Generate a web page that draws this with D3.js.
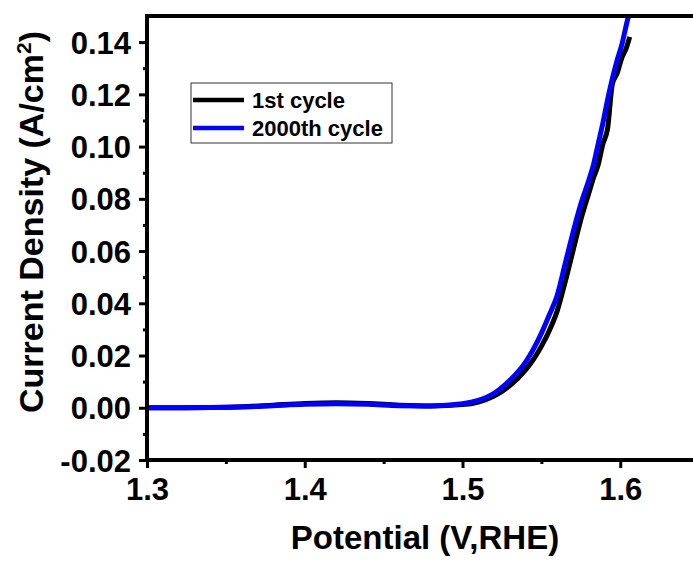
<!DOCTYPE html>
<html>
<head>
<meta charset="utf-8">
<script src="https://cdn.jsdelivr.net/npm/d3@7"></script>
<style>
  body { margin: 0; background: #fff; }
  svg text { font-family: Arial, "Liberation Sans", sans-serif; font-weight: bold; fill: #000; }
</style>
</head>
<body>
<div class="lsv-chart"></div>
<script>
// potential (V vs RHE)
var potential = [1.30, 1.32, 1.34, 1.36, 1.38, 1.40, 1.42, 1.44, 1.46, 1.48, 1.50, 1.51, 1.52, 1.53, 1.54,
                 1.545, 1.55, 1.555, 1.56, 1.565, 1.57, 1.575, 1.58, 1.583, 1.586, 1.589, 1.592, 1.595,
                 1.598, 1.601, 1.604, 1.606];

// current density (A/cm2)
var cycle1 = [0.0000, 0.0000, 0.0001, 0.0004, 0.0010, 0.0016, 0.0019, 0.0016, 0.0010, 0.0007, 0.0012, 0.0022,
              0.0045, 0.0085, 0.0145, 0.0185, 0.0235, 0.0295, 0.0370, 0.0480, 0.0600, 0.0720, 0.0820, 0.0880,
              0.0930, 0.1010, 0.1070, 0.1240, 0.1280, 0.1340, 0.1380, 0.1420];
var cycle2000 = [0.0000, 0.0000, 0.0001, 0.0003, 0.0008, 0.0013, 0.0015, 0.0013, 0.0008, 0.0007, 0.0015, 0.0028,
                 0.0055, 0.0105, 0.0175, 0.0225, 0.0285, 0.0355, 0.0430, 0.0550, 0.0670, 0.0780, 0.0870, 0.0930,
                 0.1010, 0.1090, 0.1180, 0.1260, 0.1330, 0.1390, 0.1470, 0.1520];

var seriesNames = ["1st cycle", "2000th cycle"];
var seriesColors = ["#000000", "#0000ff"];

var xTicks = [1.3, 1.4, 1.5, 1.6];
var xMinor = [1.35, 1.45, 1.55, 1.65];
var yTicks = [-0.02, 0.00, 0.02, 0.04, 0.06, 0.08, 0.10, 0.12, 0.14];
var yMinor = [-0.01, 0.01, 0.03, 0.05, 0.07, 0.09, 0.11, 0.13];

var width = 693, height = 563;

var x = d3.scaleLinear().domain([1.3, 1.7]).range([147, 778]);
var y = d3.scaleLinear().domain([-0.02, 0.15]).range([460, 16]);

var svg = d3.select(".lsv-chart").append("svg")
    .attr("width", width)
    .attr("height", height);

svg.append("defs").append("clipPath").attr("id", "plot-clip")
  .append("rect")
    .attr("x", x.range()[0]).attr("y", y.range()[1])
    .attr("width", x.range()[1] - x.range()[0])
    .attr("height", y.range()[0] - y.range()[1]);

// curves
var line = d3.line()
    .x(function(d) { return x(d[0]); })
    .y(function(d) { return y(d[1]); })
    .curve(d3.curveMonotoneX);

var allSeries = [cycle1, cycle2000];
svg.append("g").attr("clip-path", "url(#plot-clip)")
  .selectAll("path")
    .data(allSeries)
  .enter().append("path")
    .attr("d", function(s) { return line(potential.map(function(p, i) { return [p, s[i]]; })); })
    .style("fill", "none")
    .style("stroke", function(d, i) { return seriesColors[i]; })
    .style("stroke-width", 5)
    .style("stroke-linejoin", "round");

// frame (top line; right side falls outside the picture)
svg.append("line")
    .attr("x1", x.range()[0]).attr("x2", x.range()[1])
    .attr("y1", y.range()[1]).attr("y2", y.range()[1])
    .style("stroke", "#000").style("stroke-width", 4);

// x axis
var xAxis = svg.append("g").attr("transform", "translate(0," + y.range()[0] + ")");
xAxis.append("g").attr("class", "minor")
    .call(d3.axisBottom(x).tickValues(xMinor).tickSize(4).tickFormat(""));
xAxis.append("g").attr("class", "major")
    .call(d3.axisBottom(x).tickValues(xTicks).tickSize(8).tickFormat(d3.format(".1f")));
xAxis.selectAll(".domain").style("stroke", "#000").style("stroke-width", 4)
    .attr("d", "M" + (x.range()[0] - 2) + ",0H" + x.range()[1]);
xAxis.selectAll(".tick line").style("stroke", "#000").style("stroke-width", 3);
xAxis.selectAll(".major .tick text").style("font-size", "31px").attr("y", 40).attr("dy", 0);

// y axis
var yAxis = svg.append("g").attr("transform", "translate(" + x.range()[0] + ",0)");
yAxis.append("g").attr("class", "minor")
    .call(d3.axisLeft(y).tickValues(yMinor).tickSize(4).tickFormat(""));
yAxis.append("g").attr("class", "major")
    .call(d3.axisLeft(y).tickValues(yTicks).tickSize(8).tickFormat(function(d) {
      return d3.format(".2f")(d).replace("\u2212", "-");
    }));
yAxis.selectAll(".domain").style("stroke", "#000").style("stroke-width", 4)
    .attr("d", "M0," + (y.range()[0] + 2) + "V" + (y.range()[1] - 2));
yAxis.selectAll(".tick line").style("stroke", "#000").style("stroke-width", 3);
yAxis.selectAll(".major .tick text").style("font-size", "31px").attr("x", -16).attr("dy", "0.36em");

// axis titles
svg.append("text")
    .attr("x", 425).attr("y", 549)
    .attr("text-anchor", "middle")
    .style("font-size", "33px")
    .text("Potential (V,RHE)");

var yt = svg.append("text")
    .attr("transform", "translate(43,222) rotate(-90)")
    .attr("text-anchor", "middle")
    .style("font-size", "34px");
yt.append("tspan").text("Current Density (A/cm");
yt.append("tspan").attr("dy", -12).style("font-size", "21px").text("2");
yt.append("tspan").attr("dy", 12).text(")");

// legend
var legend = svg.append("g");
legend.append("rect")
    .attr("x", 191).attr("y", 83).attr("width", 201).attr("height", 60)
    .style("fill", "#fff").style("stroke", "#333").style("stroke-width", 1);
var item = legend.selectAll("g.item").data(seriesNames).enter().append("g").attr("class", "item")
    .attr("transform", function(d, i) { return "translate(0," + (100 + i * 28) + ")"; });
item.append("line")
    .attr("x1", 193).attr("x2", 244).attr("y1", 0).attr("y2", 0)
    .style("stroke", function(d, i) { return seriesColors[i]; })
    .style("stroke-width", 4.5);
item.append("text")
    .attr("x", 252).attr("y", 7.5)
    .style("font-size", "22px")
    .text(function(d) { return d; });
</script>
</body>
</html>
